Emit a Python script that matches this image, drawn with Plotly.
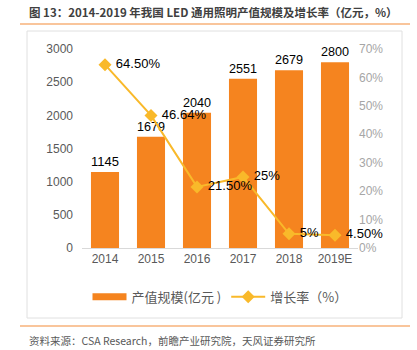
import plotly.graph_objects as go

categories = ["2014", "2015", "2016", "2017", "2018", "2019E"]
output_value = [1145, 1679, 2040, 2551, 2679, 2800]
growth_rate = [64.5, 46.64, 21.5, 25, 5, 4.5]
growth_labels = ["64.50%", "46.64%", "21.50%", "25%", "5%", "4.50%"]

title_text = "图 13：2014-2019 年我国 LED 通用照明产值规模及增长率（亿元，%）"
source_text = "资料来源：CSA Research，前瞻产业研究院，天风证券研究所"
bar_name = "产值规模(亿元 )"
line_name = "增长率（%）"

FONT = "Liberation Sans, Arial, Noto Sans CJK SC"
CJK = "Noto Sans CJK SC, Liberation Sans"
BAR_COLOR = "#F5841F"
LINE_COLOR = "#F9B92A"

fig = go.Figure()
fig.add_trace(go.Bar(
    x=categories, y=output_value, name=bar_name, showlegend=False,
    marker=dict(color=BAR_COLOR, line=dict(width=0)),
    text=[str(v) for v in output_value], textposition="outside",
    textfont=dict(color="#000000", size=13, family=FONT),
    cliponaxis=False,
))
# legend-only entry to show the bar series as a wide swatch
fig.add_trace(go.Scatter(
    x=[None], y=[None], name=bar_name, mode="lines",
    line=dict(color=BAR_COLOR, width=7),
))
fig.add_trace(go.Scatter(
    x=categories, y=growth_rate, name=line_name, yaxis="y2",
    mode="lines+markers+text",
    line=dict(color=LINE_COLOR, width=2),
    marker=dict(symbol="diamond", size=10, color=LINE_COLOR),
    text=growth_labels, texttemplate=" %{text}", textposition="middle right",
    textfont=dict(color="#000000", size=13, family=FONT),
    cliponaxis=False,
))

fig.update_layout(
    width=417, height=350,
    margin=dict(l=82, r=59, t=49, b=102),
    paper_bgcolor="white", plot_bgcolor="white",
    bargap=0.39,
    showlegend=True,
    legend=dict(orientation="h", x=0.5, xanchor="center", y=-0.17, yanchor="top",
                font=dict(size=13, color="#595959", family=CJK),
                itemwidth=34, tracegroupgap=0, traceorder="normal"),
    xaxis=dict(showgrid=False, showline=True, linecolor="#D9D9D9", linewidth=1,
               tickfont=dict(size=12, color="#595959", family=FONT), ticks=""),
    yaxis=dict(range=[0, 3000], dtick=500, showgrid=False, showline=False, zeroline=False,
               tickfont=dict(size=12, color="#595959", family=FONT), ticklabelstandoff=8),
    yaxis2=dict(range=[0, 70], dtick=10, overlaying="y", side="right", showgrid=False,
                zeroline=False, showline=False, ticksuffix="%",
                tickfont=dict(size=12, color="#A6A6A6", family=FONT)),
    shapes=[
        dict(type="rect", xref="paper", yref="paper", x0=-55/276, x1=(402-82)/276,
             y0=-(318-248)/199, y1=(248-31)/199, line=dict(color="#E0E0E0", width=1)),
        dict(type="line", xref="paper", yref="paper", x0=-62/276, x1=(410-82)/276,
             y0=(248-24)/199, y1=(248-24)/199, line=dict(color="#F7B27A", width=1.5)),
        dict(type="line", xref="paper", yref="paper", x0=-62/276, x1=(410-82)/276,
             y0=-(326-248)/199, y1=-(326-248)/199, line=dict(color="#F7B27A", width=1.5)),
    ],
    annotations=[
        dict(text="<b>" + title_text + "</b>", xref="paper", yref="paper", x=-55/276, y=(248-12)/199,
             xanchor="left", yanchor="middle", showarrow=False,
             font=dict(size=11.5, color="#404040", family=CJK)),
        dict(text=source_text, xref="paper", yref="paper", x=-55/276, y=-(340-248)/199,
             xanchor="left", yanchor="middle", showarrow=False,
             font=dict(size=10.5, color="#595959", family=CJK)),
    ],
)

fig.write_html("out.html")
